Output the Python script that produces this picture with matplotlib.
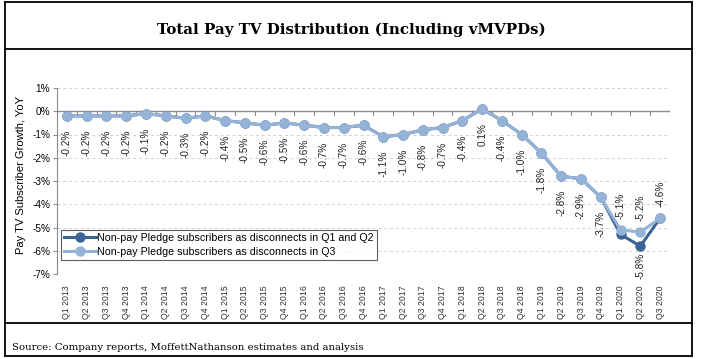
import numpy as np
import matplotlib.pyplot as plt
from matplotlib.lines import Line2D

# Quarterly YoY pay TV subscriber growth (%)
quarters = ["Q1 2013", "Q2 2013", "Q3 2013", "Q4 2013",
            "Q1 2014", "Q2 2014", "Q3 2014", "Q4 2014",
            "Q1 2015", "Q2 2015", "Q3 2015", "Q4 2015",
            "Q1 2016", "Q2 2016", "Q3 2016", "Q4 2016",
            "Q1 2017", "Q2 2017", "Q3 2017", "Q4 2017",
            "Q1 2018", "Q2 2018", "Q3 2018", "Q4 2018",
            "Q1 2019", "Q2 2019", "Q3 2019", "Q4 2019",
            "Q1 2020", "Q2 2020", "Q3 2020"]
growth_q3 = [-0.2, -0.2, -0.2, -0.2, -0.1, -0.2, -0.3, -0.2,
             -0.4, -0.5, -0.6, -0.5, -0.6, -0.7, -0.7, -0.6,
             -1.1, -1.0, -0.8, -0.7, -0.4, 0.1, -0.4, -1.0,
             -1.8, -2.8, -2.9, -3.7, -5.1, -5.2, -4.6]
growth_q1q2 = [-0.2, -0.2, -0.2, -0.2, -0.1, -0.2, -0.3, -0.2,
               -0.4, -0.5, -0.6, -0.5, -0.6, -0.7, -0.7, -0.6,
               -1.1, -1.0, -0.8, -0.7, -0.4, 0.1, -0.4, -1.0,
               -1.8, -2.8, -2.9, -3.7, -5.3, -5.8, -4.6]
yticks = [1, 0, -1, -2, -3, -4, -5, -6, -7]
ytick_labels = ["1%", "0%", "-1%", "-2%", "-3%", "-4%", "-5%", "-6%", "-7%"]

label_q1q2 = "Non-pay Pledge subscribers as disconnects in Q1 and Q2"
label_q3 = "Non-pay Pledge subscribers as disconnects in Q3"

dark = "#3a6496"
light = "#95b3d7"
axis_gray = "#8c8c8c"

plt.rcParams["font.family"] = ["Liberation Sans", "DejaVu Sans"]

fig = plt.figure(figsize=(7.04, 3.59), dpi=100)
ax = fig.add_axes([57 / 704, 1 - 274 / 359, 613 / 704, 186 / 359])

x = np.arange(len(quarters))

ax.plot(x, growth_q1q2, color=dark, lw=2.2, marker="o", ms=6.5,
        label=label_q1q2, zorder=3)
ax.plot(x, growth_q3, color=light, lw=2.2, marker="o", ms=6.5,
        label=label_q3, zorder=4)

# data labels: below points, except the last three (above)
n = len(growth_q3)
for i, v in enumerate(growth_q3):
    above = i >= n - 3
    ax.annotate(f"{v:.1f}%", (x[i], v), xytext=(0, 8 if above else -10),
                textcoords="offset points", rotation=90, ha="center",
                va="bottom" if above else "top", fontsize=7.2, color="#222222",
                zorder=5)
ax.annotate(f"{growth_q1q2[29]:.1f}%", (x[29], growth_q1q2[29]),
            xytext=(0, -5), textcoords="offset points", rotation=90,
            ha="center", va="top", fontsize=7.2, color="#222222", zorder=5)

ax.set_xlim(-0.5, n - 0.5)
ax.set_ylim(-7, 1)
ax.set_yticks(yticks)
ax.set_yticklabels(ytick_labels, fontsize=7.2)
for yv in yticks:
    if yv != 0:
        ax.axhline(yv, color="#d0d0d0", lw=0.7, ls=(0, (3, 3)), zorder=0)

# category axis crossing at 0 with tick marks at boundaries
ax.axhline(0, color=axis_gray, lw=1.0, zorder=1)
for b in np.arange(-0.5, n, 1.0):
    ax.plot([b, b], [0, -0.17], color=axis_gray, lw=0.8, zorder=1)

ax.set_xticks(x)
ax.set_xticklabels(quarters, rotation=90, fontsize=6.3, color="#333333")
ax.tick_params(axis="x", length=0, pad=8)
ax.tick_params(axis="y", length=3, color=axis_gray, pad=2)

for s in ["top", "right", "bottom"]:
    ax.spines[s].set_visible(False)
ax.spines["left"].set_color(axis_gray)

ax.set_ylabel("Pay TV Subscriber Growth, YoY", fontsize=8)
ax.yaxis.set_label_coords(-0.05, 0.53)

leg = ax.legend(loc="lower left", bbox_to_anchor=(-0.003, 0.045), fontsize=7.7,
                frameon=True, fancybox=False, handlelength=3.0,
                handletextpad=0.1, borderpad=0.3, labelspacing=0.4)
leg.get_frame().set_edgecolor("#333333")
leg.get_frame().set_linewidth(0.8)

# outer frame and separators
def hline(y, x0=5, x1=692):
    fig.add_artist(Line2D([x0 / 704, x1 / 704], [1 - y / 359, 1 - y / 359],
                          color="black", lw=1.3))

def vline(xp, y0=2, y1=356):
    fig.add_artist(Line2D([xp / 704, xp / 704], [1 - y0 / 359, 1 - y1 / 359],
                          color="black", lw=1.3))

for yp in [2, 49, 323, 356]:
    hline(yp)
vline(5)
vline(692)

fig.text(351 / 704, 1 - 30 / 359, "Total Pay TV Distribution (Including vMVPDs)",
         ha="center", va="center", fontsize=10.8, fontweight="bold",
         family="DejaVu Serif")
fig.text(12 / 704, 1 - 348 / 359,
         "Source: Company reports, MoffettNathanson estimates and analysis",
         ha="left", va="center", fontsize=7.3, family="DejaVu Serif")

fig.savefig("out.png", dpi=100)
